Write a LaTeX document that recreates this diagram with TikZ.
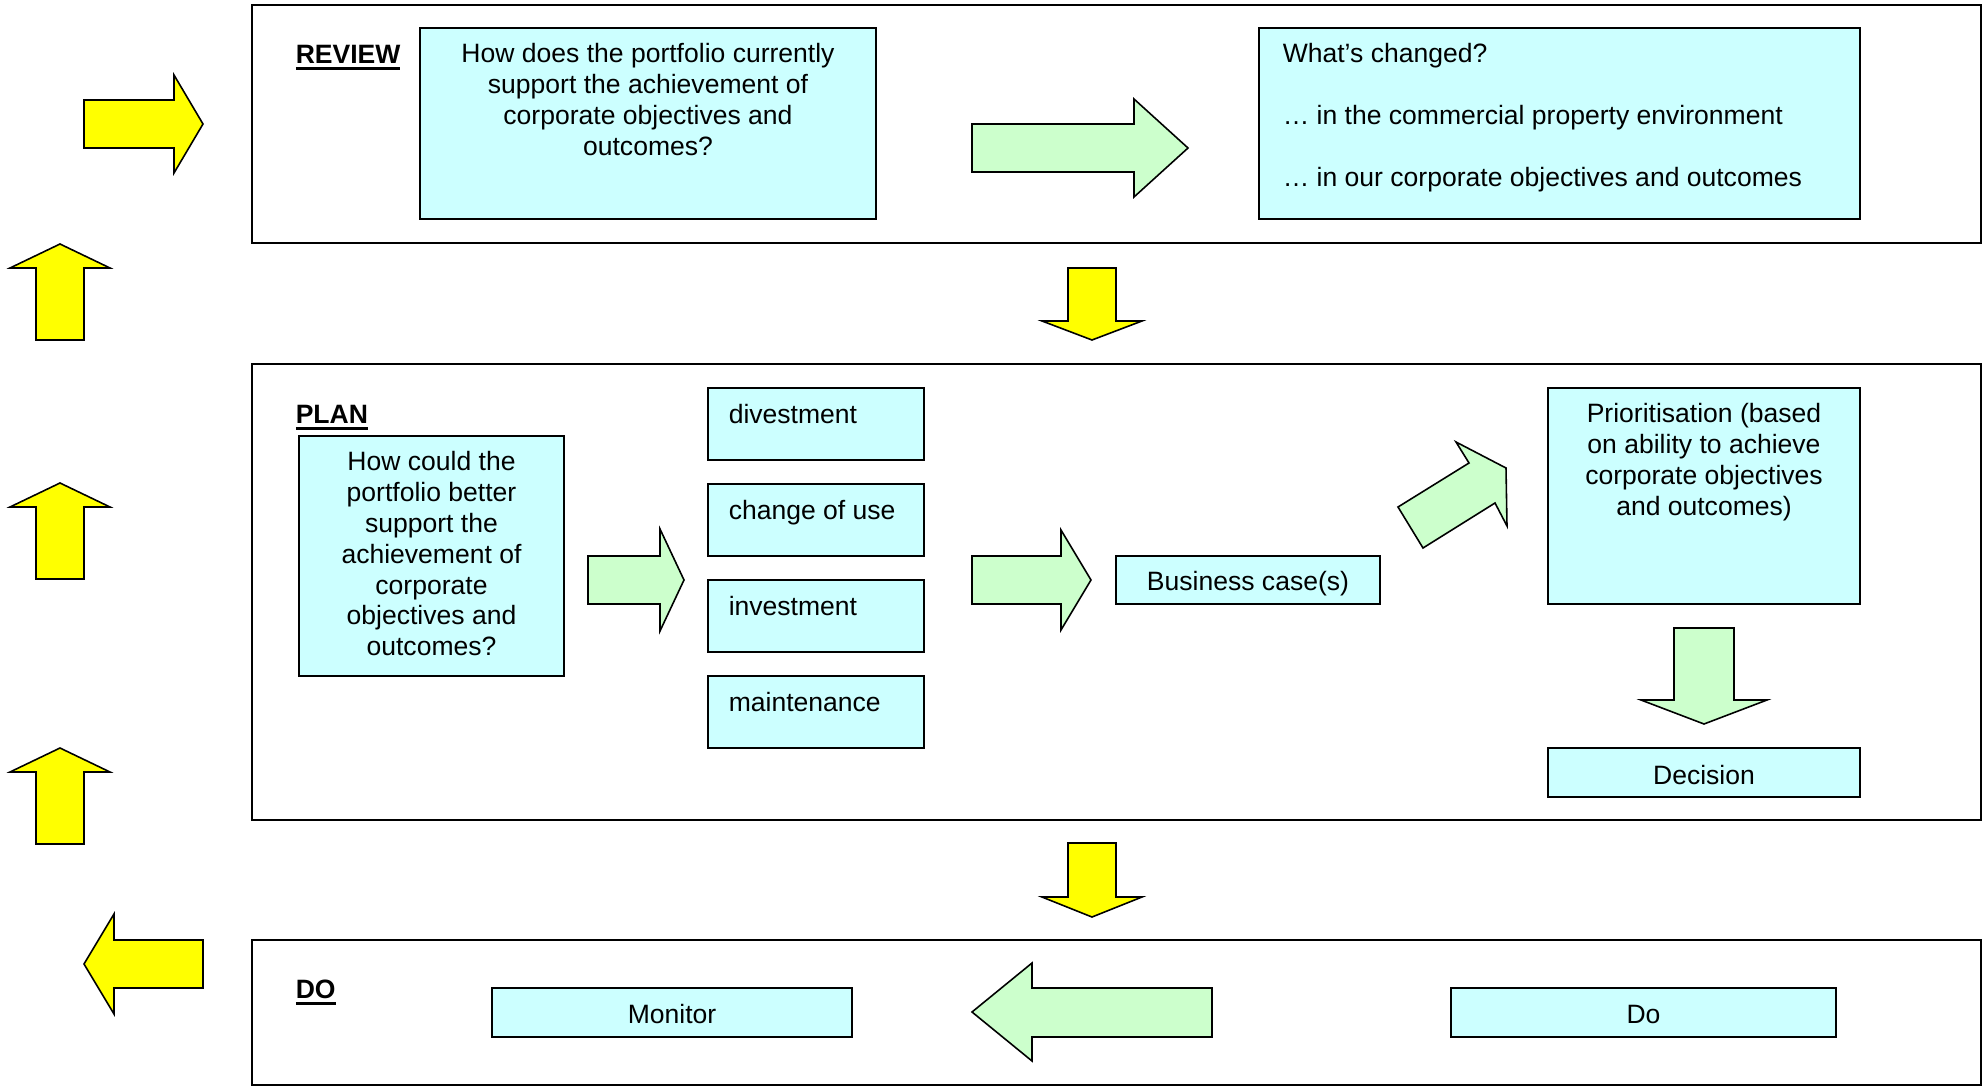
\documentclass[tikz,border=0pt]{standalone}
\usepackage{fontspec}
\setmainfont{Liberation Sans}
\usetikzlibrary{fit}

\definecolor{boxcyan}{HTML}{CCFFFF}
\definecolor{arrgreen}{HTML}{CCFFCC}
\definecolor{arryellow}{HTML}{FFFF00}

% bold heading with a heavy underline
\newcommand\stagehead[1]{\setbox0\hbox{\textbf{#1}}\rlap{\rule[-4pt]{\wd0}{1.6pt}}\box0}

\begin{document}
\begin{tikzpicture}[x=0.2mm, y=-0.2mm, line width=0.9pt,
    font=\fontsize{15.1}{17.5}\selectfont,
    frame/.style={draw, inner sep=0pt},
    cbox/.style={draw, fill=boxcyan, inner sep=0pt},
    txt/.style={inner sep=0pt, align=center, anchor=base},
    ltxt/.style={inner sep=0pt, align=left, anchor=base west},
    yarrow/.style={draw, fill=arryellow},
    garrow/.style={draw, fill=arrgreen}]
  \useasboundingbox (0,0) rectangle (1988,1088);

  % stage frames
  \node[frame, fit={(252,5) (1981,243)}] (review) {};
  \node[frame, fit={(252,364) (1981,820)}] (plan) {};
  \node[frame, fit={(252,940) (1981,1085)}] (do) {};

  \node[ltxt] (reviewhd) at (295,63) {\stagehead{REVIEW}};
  \node[ltxt] (planhd) at (295,423) {\stagehead{PLAN}};
  \node[ltxt] (dohd) at (295,998) {\stagehead{DO}};

  % review (multi-line texts sit on their last baseline)
  \node[cbox, fit={(420,28) (876,219)}] (current) {};
  \node[txt] (currenttxt) at (648,155) {How does the portfolio currently\\support the achievement of\\corporate objectives and\\outcomes?};
  \node[cbox, fit={(1259,28) (1860,219)}] (changed) {};
  \node[ltxt] (changedtxt) at (1282,186) {What’s changed?\\[17.5pt]… in the commercial property environment\\[17.5pt]… in our corporate objectives and outcomes};

  % plan
  \node[cbox, fit={(299,436) (564,676)}] (better) {};
  \node[txt] (bettertxt) at (431.5,655.5) {How could the\\portfolio better\\support the\\achievement of\\corporate\\objectives and\\outcomes?};
  \node[cbox, fit={(708,388) (924,460)}] (divest) {};
  \node[cbox, fit={(708,484) (924,556)}] (change) {};
  \node[cbox, fit={(708,580) (924,652)}] (invest) {};
  \node[cbox, fit={(708,676) (924,748)}] (maint) {};
  \node[ltxt] (divesttxt) at (728,423) {divestment};
  \node[ltxt] (changetxt) at (728,519) {change of use};
  \node[ltxt] (investtxt) at (728,615) {investment};
  \node[ltxt] (mainttxt) at (728,711) {maintenance};
  \node[cbox, fit={(1116,556) (1380,604)}] (bcase) {};
  \node[txt] (bcasetxt) at (1248,590) {Business case(s)};
  \node[cbox, fit={(1548,388) (1860,604)}] (prio) {};
  \node[txt] (priotxt) at (1704,515) {Prioritisation (based\\on ability to achieve\\corporate objectives\\and outcomes)};
  \node[cbox, fit={(1548,748) (1860,797)}] (decision) {};
  \node[txt] (decisiontxt) at (1704,784) {Decision};

  % do
  \node[cbox, fit={(492,988) (852,1037)}] (monitor) {};
  \node[txt] (monitortxt) at (672,1023) {Monitor};
  \node[cbox, fit={(1451,988) (1836,1037)}] (dobox) {};
  \node[txt] (doboxtxt) at (1643.5,1023) {Do};

  % green block arrows
  \draw[garrow] (972,124) -- (1134,124) -- (1134,99) -- (1188,148) -- (1134,197) -- (1134,172) -- (972,172) -- cycle;
  \draw[garrow] (588,556) -- (660,556) -- (660,529) -- (684,580) -- (660,631) -- (660,604) -- (588,604) -- cycle;
  \draw[garrow] (972,556) -- (1061,556) -- (1061,530) -- (1091,580) -- (1061,630) -- (1061,604) -- (972,604) -- cycle;
  \draw[garrow] (1398,507) -- (1423,548) -- (1495,503) -- (1507,526) -- (1506,468) -- (1456,442) -- (1469,463) -- cycle;
  \draw[garrow] (1674,628) -- (1734,628) -- (1734,700) -- (1767,700) -- (1704,724) -- (1641,700) -- (1674,700) -- cycle;
  \draw[garrow] (1212,988) -- (1032,988) -- (1032,963) -- (972,1012) -- (1032,1061) -- (1032,1037) -- (1212,1037) -- cycle;

  % yellow block arrows between stages
  \draw[yarrow] (1068,268) -- (1116,268) -- (1116,321) -- (1142,321) -- (1092,340) -- (1042,321) -- (1068,321) -- cycle;
  \draw[yarrow] (1068,843) -- (1116,843) -- (1116,897) -- (1142,897) -- (1092,917) -- (1042,897) -- (1068,897) -- cycle;

  % yellow cycle on the left
  \draw[yarrow] (84,100) -- (174,100) -- (174,75) -- (203,124) -- (174,173) -- (174,148) -- (84,148) -- cycle;
  \foreach \t in {244,483,748}
    \draw[yarrow] (36,\t+96) -- (36,\t+24) -- (10,\t+24) -- (60,\t) -- (110,\t+24) -- (84,\t+24) -- (84,\t+96) -- cycle;
  \draw[yarrow] (203,940) -- (114,940) -- (114,914) -- (84,964) -- (114,1014) -- (114,988) -- (203,988) -- cycle;
\end{tikzpicture}
\end{document}
